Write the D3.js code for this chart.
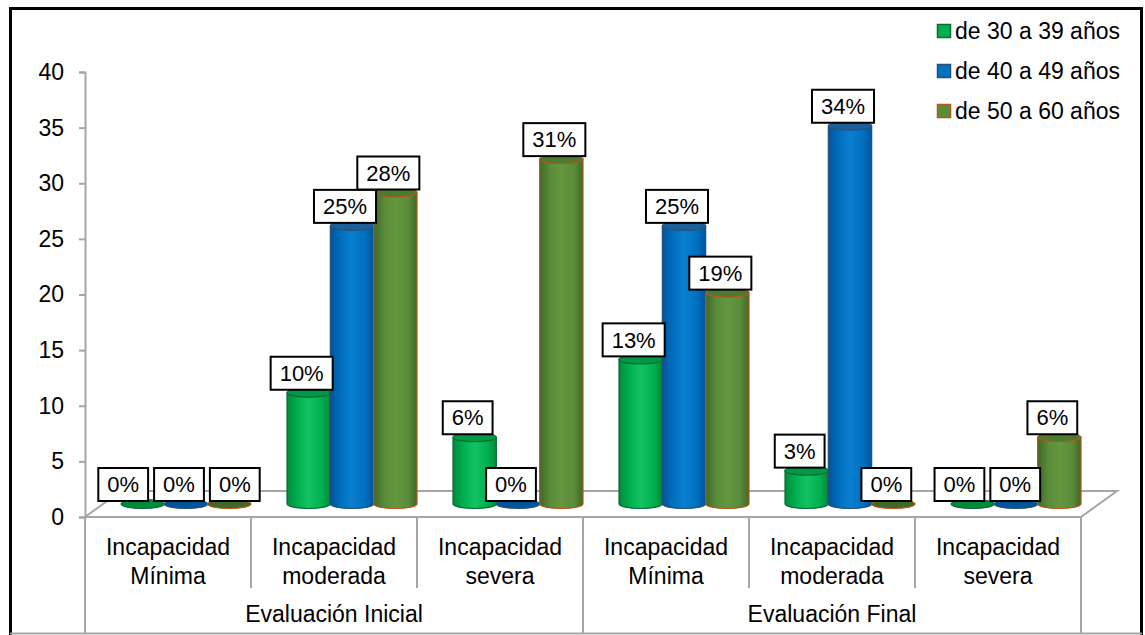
<!DOCTYPE html>
<html>
<head>
<meta charset="utf-8">
<script src="https://cdn.jsdelivr.net/npm/d3@7"></script>
<style>
  html, body { margin: 0; padding: 0; background: #fff; }
  svg { display: block; font-family: Arial, "Liberation Sans", sans-serif; }
</style>
</head>
<body>
<svg id="chart" width="1145" height="635"></svg>
<script>
// Categories along the x axis (two evaluation groups, three levels each)
const groups = ["Evaluación Inicial", "Evaluación Final"];
const levels = [["Incapacidad", "Mínima"], ["Incapacidad", "moderada"], ["Incapacidad", "severa"]];
const categories = groups.flatMap(g => levels.map(l => g + " | " + l.join(" ")));

// Age brackets (series)
const seriesNames = ["de 30 a 39 años", "de 40 a 49 años", "de 50 a 60 años"];
const values30to39 = [0, 10, 6, 13, 3, 0];
const values40to49 = [0, 25, 0, 25, 34, 0];
const values50to60 = [0, 28, 31, 19, 0, 6];
const yTicks = [0, 5, 10, 15, 20, 25, 30, 35, 40];

const seriesValues = [values30to39, values40to49, values50to60];

const palette = [
  { base: "#00b050", light: "#14c264", dark: "#008a3c", top: "#009a44", stroke: "#0b6b32" },
  { base: "#0070c0", light: "#0a7fd0", dark: "#00549a", top: "#1d5f98", stroke: "#25507a" },
  { base: "#5a8c3a", light: "#65973f", dark: "#3f6829", top: "#4d7a31", stroke: "#b5561b" }
];

const svg = d3.select("#chart");
const defs = svg.append("defs");

// Plot geometry: front plane of the floor and its depth
const x0 = d3.scaleBand().domain(categories).range([85, 1081]);
const y = d3.scaleLinear().domain([0, 40]).range([517, 72]);
const depth = { dx: 36, dy: -26 };
const mid = { dx: depth.dx / 2, dy: depth.dy / 2 };
const x1 = d3.scaleBand().domain(seriesNames).range([18, x0.bandwidth() - 18]);
const ry = 4.5;
const gray = "#a6a6a6";

// Cylinder shading
palette.forEach((p, i) => {
  const g = defs.append("linearGradient").attr("id", "cyl" + i)
    .attr("x1", "0%").attr("x2", "100%").attr("y1", "0%").attr("y2", "0%");
  g.append("stop").attr("offset", "0%").attr("stop-color", p.dark);
  g.append("stop").attr("offset", "25%").attr("stop-color", p.base);
  g.append("stop").attr("offset", "50%").attr("stop-color", p.light);
  g.append("stop").attr("offset", "80%").attr("stop-color", p.base);
  g.append("stop").attr("offset", "100%").attr("stop-color", p.dark);
});

// Outer frame
svg.append("rect").attr("x", 10.5).attr("y", 8.5).attr("width", 1131).attr("height", 640)
  .attr("fill", "none").attr("stroke", "#000").attr("stroke-width", 3);
svg.append("line").attr("x1", 10).attr("x2", 1142).attr("y1", 633.5).attr("y2", 633.5)
  .attr("stroke", gray).attr("stroke-width", 2);

// Floor
const [fx0, fx1] = x0.range();
const fy = y(0);
svg.append("path")
  .attr("d", `M${fx0},${fy} L${fx1},${fy} L${fx1 + depth.dx},${fy + depth.dy} L${fx0 + depth.dx},${fy + depth.dy} Z`)
  .attr("fill", "#fff").attr("stroke", gray).attr("stroke-width", 2);

// Value axis
const yAxis = svg.append("g").attr("transform", `translate(${fx0},0)`)
  .call(d3.axisLeft(y).tickValues(yTicks).tickSize(6).tickPadding(15));
yAxis.select(".domain").attr("stroke", gray).attr("stroke-width", 2);
yAxis.selectAll(".tick line").attr("stroke", gray).attr("stroke-width", 2);
yAxis.selectAll(".tick text").attr("font-size", 23).attr("fill", "#000")
  .attr("font-family", "Arial, 'Liberation Sans', sans-serif");

// Category axis: dividers and labels
const catAxis = svg.append("g");
categories.forEach((c, i) => {
  const xl = x0(c);
  const isGroupEdge = i % levels.length === 0;
  catAxis.append("line").attr("x1", xl).attr("x2", xl)
    .attr("y1", fy).attr("y2", isGroupEdge ? 633 : 588)
    .attr("stroke", gray).attr("stroke-width", 2);
  const lbl = levels[i % levels.length];
  const cx = xl + x0.bandwidth() / 2;
  const t = catAxis.append("text").attr("text-anchor", "middle").attr("font-size", 23).attr("x", cx);
  t.append("tspan").attr("x", cx).attr("y", 555).text(lbl[0]);
  t.append("tspan").attr("x", cx).attr("y", 584).text(lbl[1]);
});
catAxis.append("line").attr("x1", fx1).attr("x2", fx1).attr("y1", fy).attr("y2", 633)
  .attr("stroke", gray).attr("stroke-width", 2);
groups.forEach((g, gi) => {
  const a = x0(categories[gi * levels.length]);
  const b = x0(categories[gi * levels.length + levels.length - 1]) + x0.bandwidth();
  catAxis.append("text").attr("text-anchor", "middle").attr("font-size", 23)
    .attr("x", (a + b) / 2).attr("y", 622).text(g);
});

// Bars as cylinders standing in the mid-depth plane
const bars = [];
categories.forEach((c, i) => {
  seriesNames.forEach((s, si) => {
    const v = seriesValues[si][i];
    const xl = x0(c) + x1(s) + mid.dx;
    const w = x1.bandwidth();
    bars.push({ v, si, xl, w, cx: xl + w / 2, yBase: y(0) + mid.dy, yTop: y(v) + mid.dy });
  });
});

const barLayer = svg.append("g");
bars.forEach(b => {
  const p = palette[b.si];
  const xr = b.xl + b.w, rx = b.w / 2;
  if (b.v > 0) {
    barLayer.append("path")
      .attr("d", `M${b.xl},${b.yTop} L${b.xl},${b.yBase} A${rx},${ry} 0 0 0 ${xr},${b.yBase} L${xr},${b.yTop} Z`)
      .attr("fill", `url(#cyl${b.si})`).attr("stroke", p.stroke).attr("stroke-width", 1.2);
  }
  barLayer.append("ellipse").attr("cx", b.cx).attr("cy", b.yTop).attr("rx", rx).attr("ry", ry)
    .attr("fill", b.v > 0 ? p.top : p.dark).attr("stroke", p.stroke).attr("stroke-width", 1.2);
});

// Value labels in boxes; boxes that collide on the same row are spread apart
const labelLayer = svg.append("g");
const boxH = 33, padX = 9, gap = 6;
const labels = bars.map(b => {
  const g = labelLayer.append("g");
  const t = g.append("text").attr("text-anchor", "middle").attr("dy", "0.35em")
    .attr("font-size", 22).attr("fill", "#000").text(b.v + "%");
  const w = t.node().getComputedTextLength() + 2 * padX;
  g.insert("rect", "text").attr("x", -w / 2).attr("y", -boxH / 2)
    .attr("width", w).attr("height", boxH)
    .attr("fill", "#fff").attr("stroke", "#000").attr("stroke-width", 2);
  return { g, w, want: b.cx - 7, x: b.cx - 7, y: b.yTop - 3 - boxH / 2 };
});

const rows = d3.group(labels, l => Math.round(l.y));
rows.forEach(row => {
  row.sort((a, b) => a.want - b.want);
  let clusters = row.map(l => [l]);
  let merged = true;
  while (merged) {
    merged = false;
    clusters.forEach(cl => {
      const total = d3.sum(cl, l => l.w) + gap * (cl.length - 1);
      let left = d3.mean(cl, l => l.want) - total / 2;
      cl.forEach(l => { l.x = left + l.w / 2; left += l.w + gap; });
    });
    for (let i = 0; i < clusters.length - 1; i++) {
      const a = clusters[i][clusters[i].length - 1], b = clusters[i + 1][0];
      if (a.x + a.w / 2 + gap > b.x - b.w / 2) {
        clusters.splice(i, 2, clusters[i].concat(clusters[i + 1]));
        merged = true;
        break;
      }
    }
  }
});
labels.forEach(l => l.g.attr("transform", `translate(${l.x},${l.y})`));

// Legend
const legend = svg.append("g");
seriesNames.forEach((s, i) => {
  const cy = 31 + i * 40;
  legend.append("rect").attr("x", 937.5).attr("y", cy - 6.5).attr("width", 13).attr("height", 13)
    .attr("fill", palette[i].base).attr("stroke", palette[i].stroke).attr("stroke-width", 1.5);
  legend.append("text").attr("x", 955).attr("y", cy).attr("dy", "0.35em")
    .attr("font-size", 23).attr("fill", "#000").text(s);
});
</script>
</body>
</html>
